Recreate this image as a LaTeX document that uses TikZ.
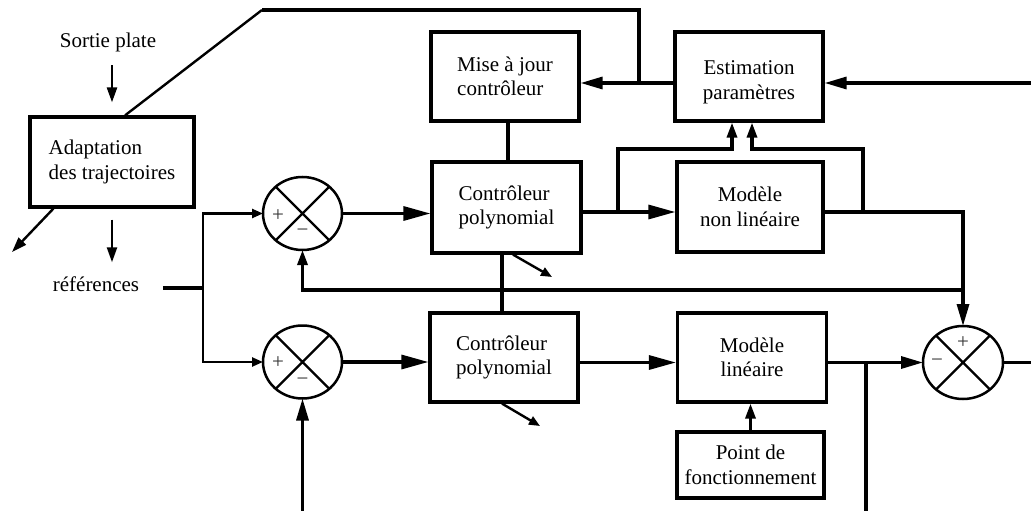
\documentclass[tikz,border=0pt]{standalone}
\usepackage{fontspec}
\setmainfont{Liberation Serif}
\usetikzlibrary{arrows.meta,shapes.geometric}
\begin{document}
\begin{tikzpicture}[x=1pt,y=-1pt,
  lbl/.style={font=\fontsize{21}{24.5}\selectfont, inner sep=0pt, align=center},
  blk/.style={draw, line width=3.2pt, inner sep=0pt, align=center, font=\fontsize{21}{24.5}\selectfont},
  sumnode/.style={draw, ellipse, line width=2.5pt, minimum width=79pt, minimum height=73pt, inner sep=0pt, outer sep=0pt},
  sgn/.style={font=\fontsize{21}{21}\selectfont, inner sep=0pt, text=black!80},
  ln/.style={line width=3.2pt},
  lnt/.style={line width=2.4pt},
  barr/.style={-{Triangle[length=27pt,width=14pt]}},
  marr/.style={-{Triangle[length=22pt,width=12pt]}},
  sarr/.style={-{Triangle[length=15pt,width=10pt]}},
  tarr/.style={-{Triangle[length=11pt,width=9pt]}},
]
\fill[white] (0,0) rectangle (1031,511);
\useasboundingbox (0,0) rectangle (1031,511);

% blocks
\node[blk, minimum width=164pt, minimum height=90pt, align=left] (adapt) at (112,162) {Adaptation\\des trajectoires};
\node[blk, minimum width=148pt, minimum height=89pt, align=left] (mise) at (505,76.5) {Mise à jour\\contrôleur};
\node[blk, minimum width=148pt, minimum height=89pt] (est) at (749,76.5) {};
\node[lbl] (estlbl) at ([yshift=-6pt]est.center) {Estimation\\paramètres};
\node[blk, minimum width=149pt, minimum height=91pt, align=left] (ctop) at (506.5,207.5) {Contrôleur\\polynomial};
\node[blk, minimum width=146pt, minimum height=90pt] (mnl) at (750,207) {Modèle\\non linéaire};
\node[blk, minimum width=148pt, minimum height=89pt, align=left] (cbot) at (504,357.5) {Contrôleur\\polynomial};
\node[blk, minimum width=149pt, minimum height=89pt] (ml) at (752,357.5) {Modèle\\linéaire};
\node[blk, minimum width=147pt, minimum height=66pt] (pf) at (750.5,465) {Point de\\fonctionnement};

% summing junctions
\node[sumnode] (s1) at (302.5,213.5) {};
\node[sumnode] (s2) at (302.5,362) {};
\node[sumnode, minimum width=80pt] (s3) at (963,362.5) {};
\foreach \s in {s1,s2,s3} \draw[lnt] (\s.45) -- (\s.225) (\s.135) -- (\s.315);
\node[sgn] at ([shift={(-24.5,2.5)}]s1.center) {+};
\node[sgn] at ([shift={(0,19.5)}]s1.center) {−};
\node[sgn] at ([shift={(-24.5,1)}]s2.center) {+};
\node[sgn] at ([shift={(0,20)}]s2.center) {−};
\node[sgn] at ([shift={(0,-19.5)}]s3.center) {+};
\node[sgn] at ([shift={(-26,0)}]s3.center) {−};

% labels
\node[lbl] (sortie) at (108,42) {Sortie plate};
\node[lbl] (refs) at (96,284) {références};

% coordinates
\coordinate (outl) at (12,252);
\coordinate (tl) at (262,10);
\coordinate (j1) at (639,83);
\coordinate (rin) at (1031,83);
\coordinate (j2) at (618,212);
\coordinate (j3) at (863,212);
\coordinate (k) at (963,212);
\coordinate (e1) at (732,149);
\coordinate (e2) at (752,149);
\coordinate (f) at (963,290);
\coordinate (vx) at (502,290);
\coordinate (d1) at (552,277);
\coordinate (d2) at (540,426);
\coordinate (j4) at (866,362.5);
\coordinate (b2) at (866,511);
\coordinate (out3) at (1031,362.5);
\coordinate (b1) at (302.5,511);
\coordinate (jr) at (203,288);

% trajectory adaptation
\draw[lnt, sarr, shorten <=13.5pt, shorten >=13pt] (sortie.south -| adapt.north) -- (adapt.north);
\draw[lnt, sarr, shorten <=11pt, shorten >=14pt] (adapt.south) -- (adapt.south |- refs.north);
\draw[lnt, sarr] ([xshift=25pt]adapt.south west) -- (outl);
\draw[lnt] ([xshift=13pt]adapt.north) -- (tl);
\draw[ln] (tl) -- (tl -| j1) -- (j1);

% top row
\draw[ln, marr] (est.west |- j1) -- (mise.east |- j1);
\draw[ln, marr] (rin) -- (est.east |- rin);
\draw[ln] ([xshift=3pt]mise.south) -- ([xshift=3pt]mise.south |- ctop.north);

% nonlinear row
\draw[ln, barr] (s1.east) -- (s1.east -| ctop.west);
\draw[ln, barr] (ctop.east |- j2) -- (mnl.west |- j2);
\draw[ln, sarr] (j2) |- (e1) -- (e1 |- est.south);
\draw[ln, marr] (mnl.east |- k) -- (k) -- (s3.north);
\draw[ln, sarr] (j3) |- (e2) -- (e2 |- est.south);
\draw[ln, sarr] (f) -- (f -| s1.south) -- (s1.south);
\draw[ln] (vx |- ctop.south) -- (vx |- cbot.north);
\draw[lnt, tarr] ([xshift=6.5pt]ctop.south) -- (d1);

% linear row
\draw[ln, barr] (s2.east) -- (s2.east -| cbot.west);
\draw[ln, barr] (cbot.east |- s3.west) -- (ml.west |- s3.west);
\draw[ln, marr] (ml.east |- s3.west) -- (s3.west);
\draw[ln] (j4) -- (b2);
\draw[lnt] (s3.east) -- (out3);
\draw[ln, sarr] (pf.north) -- (pf.north |- ml.south);
\draw[ln, marr] (b1) -- (s2.south);
\draw[lnt, tarr] ([xshift=-2pt]cbot.south) -- (d2);

% references
\draw[ln, shorten <=23.5pt] (refs.east |- jr) -- (jr);
\draw[lnt, tarr] (jr) |- (s1.west);
\draw[lnt, tarr] (jr) |- (s2.west);
\end{tikzpicture}
\end{document}
